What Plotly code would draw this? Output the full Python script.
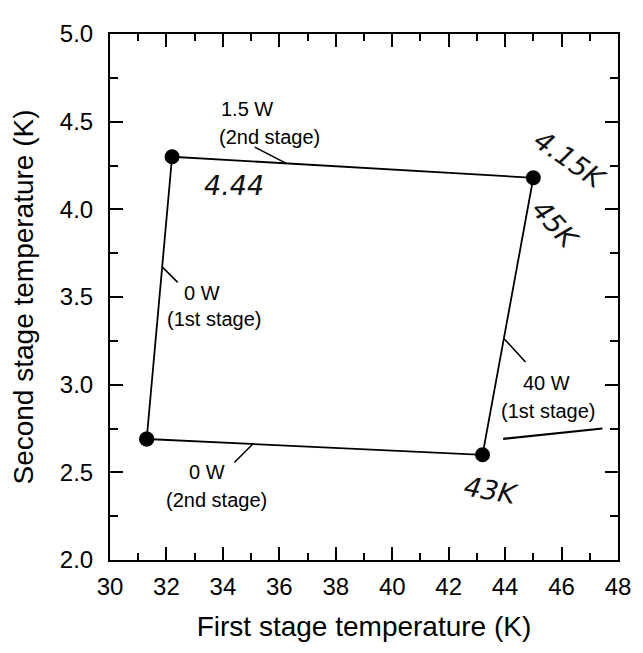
import plotly.graph_objects as go

# Operating points of the two-stage cooler load map
# order: (0 W 1st, 0 W 2nd), (0 W 1st, 1.5 W 2nd), (40 W 1st, 1.5 W 2nd), (40 W 1st, 0 W 2nd)
first_stage_K = [31.3, 32.2, 45.0, 43.2]
second_stage_K = [2.69, 4.30, 4.18, 2.60]

x_ticks = [30, 32, 34, 36, 38, 40, 42, 44, 46, 48]
y_ticks = [2.0, 2.5, 3.0, 3.5, 4.0, 4.5, 5.0]

# load-line labels: (from point, to point, fraction along line, leader offset px, text lines)
load_labels = [
    (1, 2, 0.316, (-33, -17), [("1.5 W", 34.86, 4.57), ("(2nd stage)", 35.65, 4.41)]),
    (0, 1, 0.61, (17, 17), [("0 W", 33.26, 3.52), ("(1st stage)", 33.70, 3.376)]),
    (0, 3, 0.316, (-20, 20), [("0 W", 33.44, 2.503), ("(2nd stage)", 33.77, 2.344)]),
    (3, 2, 0.42, (23, 25), [("40 W", 45.46, 3.01), ("(1st stage)", 45.52, 2.85)]),
]

# handwritten notes on the scan: (text, x, y, angle)
hand_notes = [
    ("4.44", 34.39, 4.134, 0),
    ("4.15K", 46.29, 4.283, 35),
    ("45K", 45.78, 3.912, 48),
    ("43K", 43.51, 2.398, 10),
]

FONT = "Liberation Sans, Arial, Helvetica, sans-serif"

loop_x = first_stage_K + [first_stage_K[0]]
loop_y = second_stage_K + [second_stage_K[0]]

fig = go.Figure()
fig.add_trace(go.Scatter(
    x=loop_x, y=loop_y, mode="lines+markers",
    line=dict(color="black", width=1.8),
    marker=dict(color="black", size=15),
    showlegend=False, hoverinfo="skip",
))

annotations = []
for a, b, t, (ox, oy), lines in load_labels:
    tx = first_stage_K[a] + t * (first_stage_K[b] - first_stage_K[a])
    ty = second_stage_K[a] + t * (second_stage_K[b] - second_stage_K[a])
    annotations.append(dict(
        x=tx, y=ty, xref="x", yref="y", text="", showarrow=True,
        ax=ox, ay=oy, axref="pixel", ayref="pixel",
        arrowhead=0, arrowwidth=1.6, arrowcolor="black",
        standoff=0, startstandoff=0,
    ))
    for txt, lx, ly in lines:
        annotations.append(dict(
            x=lx, y=ly, xref="x", yref="y", text=txt, showarrow=False,
            xanchor="center", yanchor="middle",
            font=dict(family=FONT, size=20, color="black"),
        ))

for txt, hx, hy, ang in hand_notes:
    annotations.append(dict(
        x=hx, y=hy, xref="x", yref="y", text=txt, showarrow=False,
        textangle=ang, xanchor="center", yanchor="middle",
        font=dict(family="DejaVu Sans, sans-serif", size=27, color="#111111", style="italic"),
    ))

# the page body has an 8 px margin, so the figure is sized to end at the window edge
fig.update_layout(
    width=635, height=645,
    margin=dict(l=102, r=18, t=23, b=93),
    paper_bgcolor="white", plot_bgcolor="white",
    annotations=annotations,
    shapes=[dict(type="line", xref="x", yref="y", x0=43.93, y0=2.691, x1=47.45, y1=2.75,
                 line=dict(color="black", width=2.2))],
    font=dict(family=FONT, color="black"),
)

fig.update_xaxes(
    range=[30, 48], tickvals=x_ticks, ticktext=[str(v) for v in x_ticks],
    ticks="inside", ticklen=13, tickwidth=2, tickcolor="black",
    minor=dict(dtick=1, ticks="inside", ticklen=7, tickwidth=1.5, tickcolor="black"),
    showline=True, linewidth=2, linecolor="black", mirror="ticks",
    showgrid=False, zeroline=False,
    tickfont=dict(family=FONT, size=24, color="black"), ticklabelstandoff=4,
    title=dict(text="First stage temperature (K)", font=dict(family=FONT, size=28, color="black"), standoff=18),
)
fig.update_yaxes(
    range=[2, 5], tickvals=y_ticks, ticktext=[f"{v:.1f}" for v in y_ticks],
    ticks="inside", ticklen=13, tickwidth=2, tickcolor="black",
    minor=dict(dtick=0.25, ticks="inside", ticklen=8, tickwidth=1.5, tickcolor="black"),
    showline=True, linewidth=2, linecolor="black", mirror="ticks",
    showgrid=False, zeroline=False,
    tickfont=dict(family=FONT, size=24, color="black"), ticklabelstandoff=10,
    title=dict(text="Second stage temperature (K)", font=dict(family=FONT, size=28, color="black"), standoff=20),
)

fig.write_html("out.html")
